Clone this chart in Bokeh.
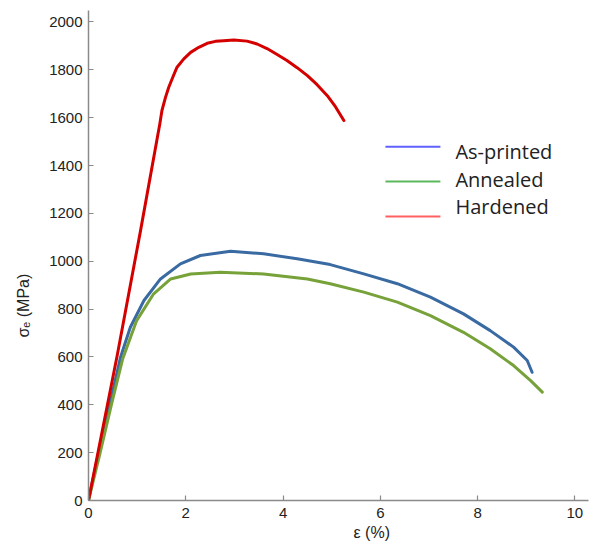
from bokeh.plotting import figure
from bokeh.models import Range1d, FixedTicker, Label, Title
from bokeh.embed import file_html
from bokeh.resources import INLINE

# ---------------- data ----------------
strain_printed = [0, 0.21, 0.44, 0.66, 0.86, 1.14, 1.48, 1.89, 2.30, 2.92, 3.60, 4.29,
                  4.97, 5.66, 6.35, 7.03, 7.71, 8.26, 8.74, 9.02, 9.12]
stress_printed = [0, 202, 404, 600, 724, 836, 926, 989, 1024, 1042, 1031, 1010,
                  986, 947, 906, 850, 780, 710, 641, 585, 536]

strain_annealed = [0, 0.24, 0.47, 0.70, 0.99, 1.34, 1.69, 2.10, 2.71, 3.60, 4.50,
                   4.97, 5.66, 6.35, 7.03, 7.71, 8.26, 8.74, 9.09, 9.33]
stress_annealed = [0, 200, 400, 590, 752, 864, 926, 947, 954, 947, 926,
                   906, 871, 829, 773, 703, 634, 564, 501, 453]

strain_hardened = [0, 0.59, 1.07, 1.41, 1.466, 1.51, 1.583, 1.65, 1.733, 1.82, 1.96,
                   2.10, 2.268, 2.44, 2.61, 2.78, 2.987, 3.26, 3.467, 3.67, 3.878,
                   4.08, 4.289, 4.50, 4.70, 4.91, 5.077, 5.25]
stress_hardened = [0, 606, 1128, 1511, 1574, 1630, 1685, 1727, 1769, 1811, 1846,
                   1873, 1894, 1911, 1919, 1922, 1925, 1920, 1908, 1889, 1864,
                   1839, 1809, 1776, 1738, 1692, 1646, 1588]

series_names = ["As-printed", "Annealed", "Hardened"]
x_ticks = [0, 2, 4, 6, 8, 10]
y_ticks = [0, 200, 400, 600, 800, 1000, 1200, 1400, 1600, 1800, 2000]
x_title = "ε (%)"
y_title = "σₑ (MPa)"

# ---------------- styles ----------------
curve_colors = ["#3a6aa2", "#77a23a", "#d40000"]
legend_colors = ["#6060ff", "#5cb85c", "#ff6060"]
axis_gray = "#8a8a8a"
text_color = "#222222"

p = figure(width=595, height=545, output_backend="svg", toolbar_location=None,
           x_range=Range1d(0, 10.28), y_range=Range1d(0, 2048),
           min_border_left=88, min_border_right=7, min_border_top=10,
           min_border_bottom=45)
p.outline_line_color = None
p.grid.visible = False

for xs, ys, c in [(strain_printed, stress_printed, curve_colors[0]),
                  (strain_annealed, stress_annealed, curve_colors[1]),
                  (strain_hardened, stress_hardened, curve_colors[2])]:
    p.line(xs, ys, line_color=c, line_width=3, line_join="round", line_cap="round")

for ax, ticks in [(p.xaxis, x_ticks), (p.yaxis, y_ticks)]:
    ax.ticker = FixedTicker(ticks=ticks)
    ax.axis_line_color = axis_gray
    ax.axis_line_width = 1.5
    ax.major_tick_line_color = axis_gray
    ax.major_tick_line_width = 1.2
    ax.major_tick_in = 5
    ax.major_tick_out = 0
    ax.minor_tick_line_color = None
    ax.major_label_text_font = "Liberation Sans"
    ax.major_label_text_font_size = "15px"
    ax.major_label_text_color = text_color
p.yaxis.major_label_standoff = 6
p.xaxis.major_label_standoff = 7

# axis titles (side-panel titles, offset along the axis like the reference)
p.add_layout(Title(text=y_title, align="left", offset=163, standoff=25,
                   vertical_align="top",
                   text_font="Liberation Sans", text_font_size="16px",
                   text_font_style="normal", text_color=text_color), "left")
p.add_layout(Title(text=x_title, align="left", offset=265, standoff=2,
                   text_font="Liberation Sans", text_font_size="16px",
                   text_font_style="normal", text_color=text_color), "below")

# legend (drawn by hand to match the reference placement)
legend_line_x = (6.105, 7.235)
legend_line_y = [1479, 1333, 1187]
legend_text_x = 7.544
legend_text_y = [1458, 1341, 1229]
for name, c, ly, ty in zip(series_names, legend_colors, legend_line_y, legend_text_y):
    p.segment(x0=[legend_line_x[0]], y0=[ly], x1=[legend_line_x[1]], y1=[ly],
              line_color=c, line_width=2)
    p.add_layout(Label(x=legend_text_x, y=ty, text=name, text_font="Open Sans",
                       text_font_size="20px", text_color=text_color,
                       text_baseline="middle", text_align="left"))

open("out.html", "w").write(file_html(p, INLINE))
